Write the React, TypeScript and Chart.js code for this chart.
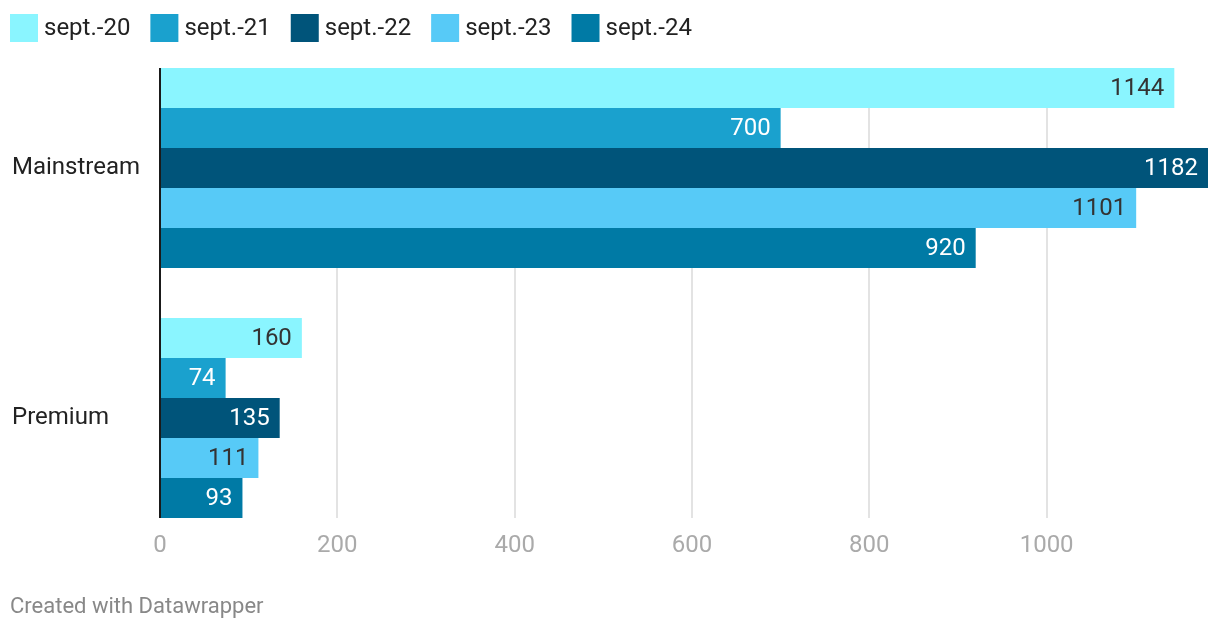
import React, { useEffect, useRef } from "react";
import { Chart, registerables } from "chart.js";

Chart.register(...registerables);

// ---- data ----
const categories = ["Mainstream", "Premium"];
const seriesLabels = ["sept.-20", "sept.-21", "sept.-22", "sept.-23", "sept.-24"];
const sept20 = [1144, 160];
const sept21 = [700, 74];
const sept22 = [1182, 135];
const sept23 = [1101, 111];
const sept24 = [920, 93];
const seriesValues = [sept20, sept21, sept22, sept23, sept24];
const xTickValues = [0, 200, 400, 600, 800, 1000];
const footerText = "Created with Datawrapper";

// ---- styles ----
const seriesColors = ["#8af5ff", "#1aa1ce", "#00547a", "#57caf7", "#007aa5"];
const valueLabelColors = ["#333333", "#ffffff", "#ffffff", "#333333", "#ffffff"];
const FONT = "Roboto, 'Noto Sans', sans-serif";

function barExtent(chart: any) {
  let top = Infinity;
  let bottom = -Infinity;
  chart.data.datasets.forEach((_d: any, i: number) => {
    const meta = chart.getDatasetMeta(i);
    meta.data.forEach((bar: any) => {
      const p = bar.getProps(["y", "height"], true);
      top = Math.min(top, p.y - p.height / 2);
      bottom = Math.max(bottom, p.y + p.height / 2);
    });
  });
  return { top, bottom };
}

const dwPlugin = {
  id: "dwPlugin",
  beforeDatasetsDraw(chart: any) {
    const { ctx } = chart;
    const xs = chart.scales.x;
    const { top, bottom } = barExtent(chart);
    ctx.save();
    ctx.strokeStyle = "#e3e3e3";
    ctx.lineWidth = 2;
    xs.ticks.forEach((t: any) => {
      if (t.value === 0) return;
      const px = Math.round(xs.getPixelForValue(t.value));
      ctx.beginPath();
      ctx.moveTo(px, top);
      ctx.lineTo(px, bottom);
      ctx.stroke();
    });
    ctx.restore();
  },
  afterDatasetsDraw(chart: any) {
    const { ctx } = chart;
    const xs = chart.scales.x;
    const { top, bottom } = barExtent(chart);
    ctx.save();
    // value labels
    ctx.font = `24px ${FONT}`;
    ctx.textAlign = "right";
    ctx.textBaseline = "middle";
    chart.data.datasets.forEach((ds: any, i: number) => {
      const meta = chart.getDatasetMeta(i);
      meta.data.forEach((bar: any, j: number) => {
        const p = bar.getProps(["x", "y"], true);
        ctx.fillStyle = valueLabelColors[i];
        ctx.fillText(String(ds.data[j]), p.x - 10, p.y + 1);
      });
    });
    // zero axis line
    const x0 = Math.round(xs.getPixelForValue(0));
    ctx.strokeStyle = "#1a1a1a";
    ctx.lineWidth = 2;
    ctx.beginPath();
    ctx.moveTo(x0, top);
    ctx.lineTo(x0, bottom);
    ctx.stroke();
    ctx.restore();
  },
  afterDraw(chart: any) {
    const { ctx } = chart;
    ctx.save();
    // legend
    ctx.font = `24px ${FONT}`;
    ctx.textAlign = "left";
    ctx.textBaseline = "middle";
    let x = 10;
    chart.data.datasets.forEach((ds: any) => {
      ctx.fillStyle = ds.backgroundColor;
      ctx.fillRect(x, 14, 28, 28);
      ctx.fillStyle = "#222222";
      ctx.fillText(ds.label, x + 34, 29);
      x += 34 + ctx.measureText(ds.label).width + 20;
    });
    // footer
    ctx.font = `22px ${FONT}`;
    ctx.fillStyle = "#888888";
    ctx.fillText(footerText, 10, 607);
    ctx.restore();
  },
};

export default function App() {
  const canvasRef = useRef<HTMLCanvasElement | null>(null);

  useEffect(() => {
    const prevMargin = document.body.style.margin;
    document.body.style.margin = "0";
    const canvas = canvasRef.current;
    if (!canvas) return;
    const xMax = Math.max(...seriesValues.flat());
    const chart = new Chart(canvas, {
      type: "bar",
      data: {
        labels: categories,
        datasets: seriesValues.map((vals, i) => ({
          label: seriesLabels[i],
          data: vals,
          backgroundColor: seriesColors[i],
          borderWidth: 0,
          categoryPercentage: 0.8,
          barPercentage: 1,
        })),
      },
      options: {
        indexAxis: "y",
        animation: false,
        responsive: false,
        devicePixelRatio: 1,
        layout: { padding: { top: 43, left: 12, right: 12, bottom: 0 } },
        plugins: {
          legend: { display: false },
          tooltip: { enabled: false },
          title: { display: false },
        },
        scales: {
          x: {
            type: "linear",
            min: 0,
            max: xMax,
            grid: { display: false, drawTicks: false },
            border: { display: false },
            ticks: {
              mirror: true,
              padding: -17,
              color: "#aaaaaa",
              font: { family: FONT, size: 24 },
              maxRotation: 0,
              autoSkip: false,
              callback: (v: any) => String(v),
            },
            afterBuildTicks: (s: any) => {
              s.ticks = xTickValues.map((v) => ({ value: v }));
            },
            afterFit: (s: any) => {
              s.height = 89;
            },
          },
          y: {
            grid: { display: false, drawTicks: false },
            border: { display: false },
            ticks: {
              crossAlign: "far",
              color: "#222222",
              font: { family: FONT, size: 24 },
            },
            afterFit: (s: any) => {
              s.width = 148;
            },
          },
        },
      },
      plugins: [dwPlugin],
    } as any);
    return () => {
      chart.destroy();
      document.body.style.margin = prevMargin;
    };
  }, []);

  return (
    <div style={{ position: "absolute", left: 0, top: 0, width: 1220, height: 632, background: "#ffffff" }}>
      <canvas ref={canvasRef} width={1220} height={632} style={{ display: "block" }} />
    </div>
  );
}
